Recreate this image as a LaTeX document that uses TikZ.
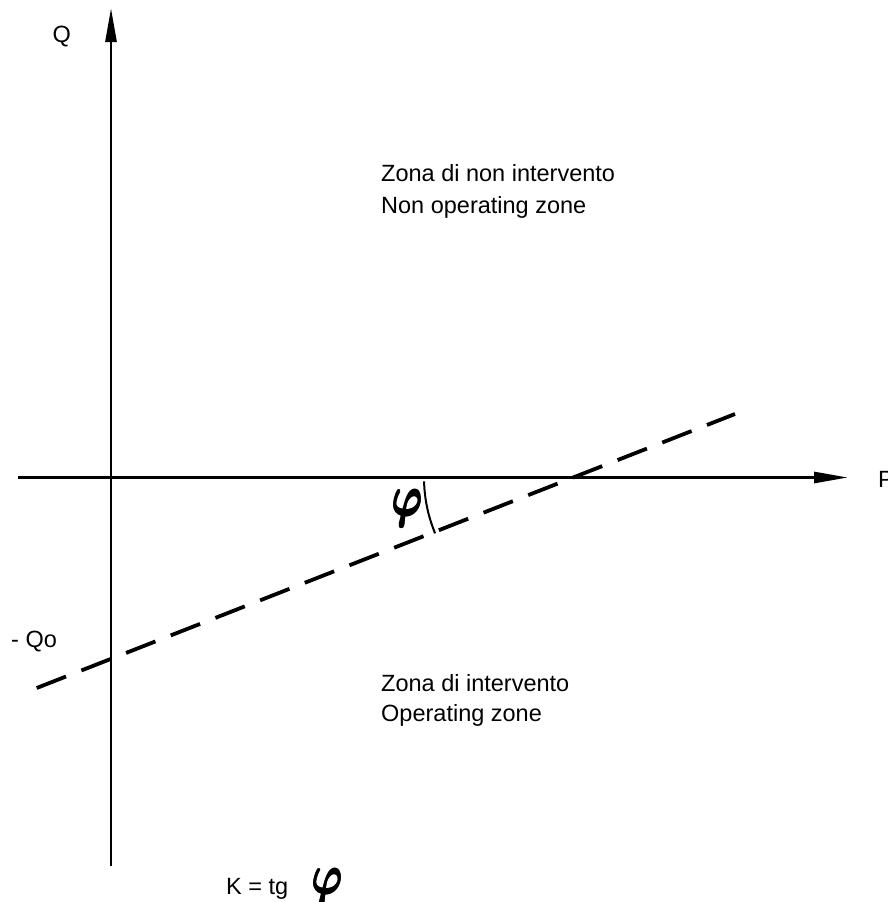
\documentclass[tikz,border=0pt]{standalone}
\usepackage{fontspec}
\setmainfont{Liberation Sans}
\usepackage{bm}
\usetikzlibrary{arrows.meta}
\newcommand{\phiglyph}{$\bm{\varphi}$}
\newcommand{\bigphi}{\scalebox{4.1}[5.6]{\rlap{\phiglyph}\rlap{\kern0.3pt\phiglyph}\rlap{\raisebox{0.2pt}{\phiglyph}}\kern0.3pt\raisebox{0.2pt}{\phiglyph}}}
\begin{document}
\begin{tikzpicture}[x=1pt,y=-1pt,
  axis/.style={line width=2.8pt,-{Triangle[length=34pt,width=11pt]}},
  dashline/.style={line width=3.8pt,dash pattern=on 31.5pt off 16.5pt},
  lbl/.style={inner sep=0pt,anchor=base west,font=\fontsize{23.5}{28}\selectfont},
  phisym/.style={inner sep=0pt}]
\useasboundingbox (0,0) rectangle (888,902);
% axes
\coordinate (vb) at (111,866);
\coordinate (vt) at (111,8);
\coordinate (hl) at (18,477.5);
\coordinate (hr) at (848,477.5);
\draw[axis] (vb) -- (vt);
\draw[axis] (hl) -- (hr);
% dashed characteristic
\coordinate (dl) at (36.7,688);
\coordinate (dr) at (735,414);
\coordinate (X) at (570,477.5);
\draw[dashline] (dl) -- (dr);
% angle arc
\draw[line width=2pt] ([shift={(178.5:146)}]X) arc (178.5:157.5:146);
% labels
\node[lbl] (Q) at (52.5,42) {Q};
\node[lbl] (P) at (878,487) {P};
\node[lbl] (Qo) at (11,647) {- Qo};
\node[lbl] (z1) at (381,181.7) {Zona di non intervento};
\node[lbl] (z2) at (381,213.3) {Non operating zone};
\node[lbl] (z3) at (381,691.7) {Zona di intervento};
\node[lbl] (z4) at (381,721.7) {Operating zone};
\node[lbl] (K) at (226,894) {K = tg};
\node[phisym] (phi1) at (407.5,508.5) {\bigphi};
\node[phisym] (phi2) at (327,887) {\bigphi};
\end{tikzpicture}
\end{document}
